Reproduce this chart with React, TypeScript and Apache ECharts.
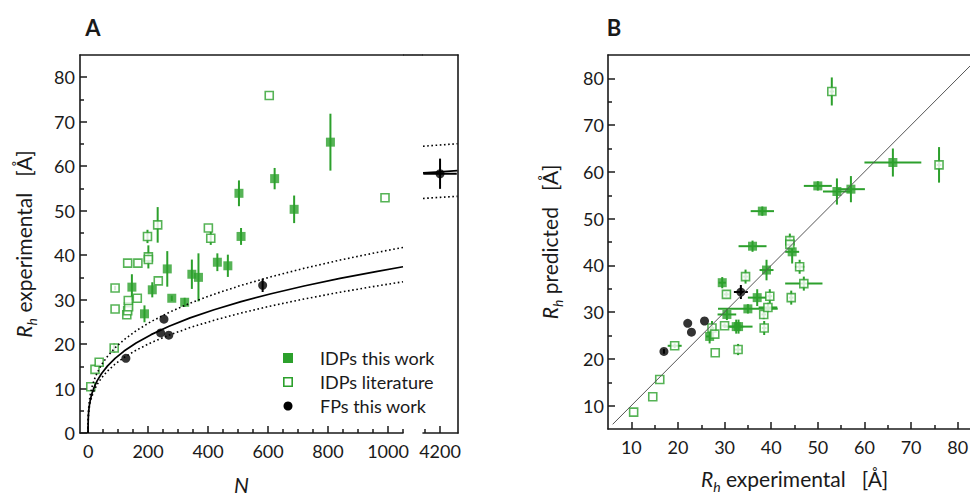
import React, { useEffect, useRef } from 'react';
import * as echarts from 'echarts';

const GREEN = '#2ca02c';
const INK = '#1a1a1a';
const FONT = 'Lato, "Open Sans", sans-serif';

// ---------- Panel A: Rh experimental vs N ----------
const aWorkN = [146, 188, 214, 264, 279, 322, 346, 368, 431, 466, 503, 510, 622, 687, 808];
const aWorkRh = [32.8, 26.8, 32.2, 36.9, 30.3, 29.4, 35.7, 35.0, 38.4, 37.6, 53.9, 44.2, 57.2, 50.3, 65.4];
const aWorkErr = [2.9, 1.9, 1.7, 4.0, 0.6, 1.0, 3.3, 5.4, 2.0, 2.5, 2.9, 1.9, 2.4, 3.1, 6.4];

const aLitN = [9, 23, 37, 87, 90, 90, 129, 132, 135, 134, 132, 164, 166, 198, 201, 201, 234, 232, 401, 409, 604, 990];
const aLitRh = [10.4, 14.3, 15.9, 19.1, 27.9, 32.6, 26.6, 27.5, 28.4, 29.8, 38.2, 30.3, 38.2, 44.2, 39.6, 39.0, 34.2, 46.8, 46.1, 43.8, 75.9, 52.9];
const aLitErr = [0, 0, 0, 1.0, 0, 0.5, 0, 0, 0, 0, 0, 0, 0, 1.5, 2.6, 0, 0, 4.0, 0, 1.5, 0, 0];

const aFpN = [126, 242, 253, 269, 582, 4200];
const aFpRh = [16.8, 22.5, 25.6, 22.0, 33.2, 58.3];
const aFpErrN = [0, 0, 0, 0, 0, 56];
const aFpErrRh = [0, 0, 0, 0, 1.5, 3.4];

// scaling-law fit Rh = a * N^nu (solid) and its confidence bounds (dotted)
const FIT_MAIN = { a: 3.87, nu: 0.326 };
const FIT_UPPER = { a: 4.6, nu: 0.317 };
const FIT_LOWER = { a: 3.67, nu: 0.32 };
const fitNLeft = [0, 0.05, 0.3, 1, 2, 4, 7, 12, 20, 30, 45, 65, 90, 120, 160, 210, 270, 340, 420, 510, 610, 720, 840, 960, 1050];
const fitNRight = [4143, 4200, 4258];

const aNLabels = [0, 200, 400, 600, 800, 1000];
const aNMinor = [50, 100, 150, 250, 300, 350, 450, 500, 550, 650, 700, 750, 850, 900, 950, 1050];
const aNRightLabels = [4200];
const aNRightMinor = [4150];
const aRhLabels = [0, 10, 20, 30, 40, 50, 60, 70, 80];
const aRhMinor = [5, 15, 25, 35, 45, 55, 65, 75];

const legendNames = ['IDPs this work', 'IDPs literature', 'FPs this work'];

// ---------- Panel B: Rh predicted vs Rh experimental ----------
const bWorkX = [26.8, 29.5, 30.5, 32.5, 33.0, 35.0, 36.0, 37.0, 38.1, 39.0, 44.5, 50.0, 54.1, 57.1, 66.1];
const bWorkY = [24.8, 36.3, 29.5, 26.9, 26.9, 30.7, 44.1, 33.1, 51.6, 39.0, 42.9, 57.0, 55.8, 56.3, 62.0];
const bWorkEx = [0.8, 0.8, 2.0, 1.5, 3.0, 6.4, 3.0, 2.0, 2.5, 1.5, 1.5, 3.0, 3.0, 3.0, 6.1];
const bWorkEy = [1.5, 1.2, 1.2, 1.5, 1.5, 1.0, 1.2, 1.8, 1.0, 2.2, 2.5, 1.0, 2.8, 2.8, 3.0];

const bLitX = [10.5, 14.6, 16.1, 19.3, 27.3, 27.9, 28.0, 30.0, 30.4, 32.9, 34.5, 38.4, 38.5, 39.3, 39.7, 44.0, 44.0, 44.3, 46.1, 47.0, 53.0, 76.0];
const bLitY = [8.6, 11.9, 15.6, 22.8, 26.6, 25.3, 21.3, 27.1, 33.8, 22.0, 37.6, 29.5, 26.6, 31.0, 33.4, 45.3, 44.5, 33.1, 39.7, 36.1, 77.2, 61.5];
const bLitEx = [0, 0, 0, 1.5, 0.5, 0, 0, 0.5, 0.5, 0.8, 0.5, 0.5, 0.5, 2.0, 0.5, 1.0, 1.0, 0.5, 1.0, 4.0, 0.5, 0.5];
const bLitEy = [0, 0, 0, 0.5, 1.5, 0, 0, 0.5, 0.5, 1.2, 1.5, 1.0, 1.5, 1.0, 1.5, 1.5, 1.0, 1.5, 1.5, 1.5, 3.0, 3.8];

const bFpX = [17.0, 22.1, 22.9, 25.7, 33.5];
const bFpY = [21.6, 27.6, 25.7, 28.1, 34.3];
const bFpEx = [0, 0, 0, 0, 1.5];
const bFpEy = [0.5, 0, 0, 0, 1.5];

const bIdentity = [[6, 6], [85, 85]];

const bLabels = [10, 20, 30, 40, 50, 60, 70, 80];
const bMinor = [15, 25, 35, 45, 55, 65, 75];

const N_BREAK = 1050;

// layout
const A_LEFT = 80, A_TOP = 55, A_H = 378, A_W1 = 323, BREAK_GAP = 20, A_W2 = 35;
const A_LEFT2 = A_LEFT + A_W1 + BREAK_GAP;
const LEG_X = 288, LEG_Y = 358, LEG_ROW = 24, LEG_TEXT_X = 320;

function fitCurve(p: { a: number; nu: number }, ns: number[]) {
  return ns.map((n) => [n, n === 0 ? 0 : p.a * Math.pow(n, p.nu)]);
}

function errRender(color: string) {
  return (params: any, api: any) => {
    const x = api.value(0), y = api.value(1), ex = api.value(2), ey = api.value(3);
    const st = { stroke: color, lineWidth: 2 };
    const kids: any[] = [];
    if (ey > 0) {
      const a = api.coord([x, y - ey]);
      const b = api.coord([x, y + ey]);
      kids.push({ type: 'line', shape: { x1: a[0], y1: a[1], x2: b[0], y2: b[1] }, style: st });
    }
    if (ex > 0) {
      const a = api.coord([x - ex, y]);
      const b = api.coord([x + ex, y]);
      kids.push({ type: 'line', shape: { x1: a[0], y1: a[1], x2: b[0], y2: b[1] }, style: st });
    }
    return { type: 'group', children: kids };
  };
}

const zip4 = (a: number[], b: number[], c: number[], d: number[]) => a.map((v, i) => [v, b[i], c[i], d[i]]);
const zip2 = (a: number[], b: number[]) => a.map((v, i) => [v, b[i]]);

const lineAx = () => ({ show: true, onZero: false, lineStyle: { color: INK, width: 1.6 } });
const labelStyle = { color: INK, fontSize: 18, fontFamily: FONT, formatter: (v: number) => String(v) };

function majorAxis(extra: any) {
  return {
    type: 'value',
    splitLine: { show: false },
    axisLine: lineAx(),
    ...extra,
    axisTick: { show: true, inside: true, length: 7, lineStyle: { color: INK, width: 1.5 }, ...(extra.axisTick || {}) },
    axisLabel: { ...labelStyle, ...(extra.axisLabel || {}) },
  };
}
function minorAxis(extra: any, values: number[]) {
  return {
    type: 'value',
    splitLine: { show: false },
    axisLine: { show: false, onZero: false },
    axisLabel: { show: false },
    axisTick: { show: true, inside: true, length: 4, customValues: values, lineStyle: { color: INK, width: 1.5 } },
    ...extra,
  };
}
function frameAxis(extra: any) {
  return {
    type: 'value',
    axisLine: lineAx(), axisTick: { show: false }, axisLabel: { show: false }, splitLine: { show: false },
    ...extra,
  };
}

const nameRich = {
  i: { fontStyle: 'italic', fontSize: 21, lineHeight: 30, fontFamily: FONT, color: INK },
  s: { fontStyle: 'italic', fontSize: 14, lineHeight: 14, verticalAlign: 'bottom', fontFamily: FONT, color: INK },
};
const nameStyle = { fontSize: 21, lineHeight: 30, fontFamily: FONT, color: INK, rich: nameRich };

export default function App() {
  const ref = useRef<HTMLDivElement>(null);
  useEffect(() => {
    const chart = echarts.init(ref.current!, null, { renderer: 'svg' });

    const aWork = zip4(aWorkN, aWorkRh, aWorkN.map(() => 0), aWorkErr);
    const aLit = zip4(aLitN, aLitRh, aLitN.map(() => 0), aLitErr);
    const aFp = zip4(aFpN, aFpRh, aFpErrN, aFpErrRh);
    const aFpLeft = aFp.filter((d) => d[0] <= N_BREAK);
    const aFpRight = aFp.filter((d) => d[0] > N_BREAK);

    const legendMarks: any[] = [
      { type: 'rect', shape: { x: LEG_X - 5, y: LEG_Y - 5, width: 10, height: 10 }, style: { fill: GREEN } },
      { type: 'rect', shape: { x: LEG_X - 4.2, y: LEG_Y + LEG_ROW - 4.2, width: 8.4, height: 8.4 }, style: { fill: '#fff', stroke: GREEN, lineWidth: 1.6 } },
      { type: 'circle', shape: { cx: LEG_X, cy: LEG_Y + 2 * LEG_ROW, r: 4.5 }, style: { fill: '#000' } },
    ];
    const legendTexts = legendNames.map((name, i) => ({
      type: 'text', x: LEG_TEXT_X, y: LEG_Y + i * LEG_ROW,
      style: { text: name, fontSize: 18, fontFamily: FONT, fill: INK, textVerticalAlign: 'middle' },
    }));

    const gridBase = { containLabel: false, outerBoundsMode: 'none' };
    const lineBase = { showSymbol: false, symbol: 'none', z: 5, silent: true, clip: false };
    const option: any = {
      animation: false,
      grid: [
        { left: A_LEFT, top: A_TOP, width: A_W1, height: A_H, ...gridBase },
        { left: A_LEFT2, top: A_TOP, width: A_W2, height: A_H, ...gridBase },
        { left: 608, top: 55, width: 373, height: 374, ...gridBase },
      ],
      xAxis: [
        majorAxis({
          gridIndex: 0, position: 'bottom', min: -27, max: 1050,
          axisTick: { customValues: aNLabels }, axisLabel: { customValues: aNLabels, margin: 9 },
          name: 'N', nameLocation: 'middle', nameGap: 41,
          nameTextStyle: { fontSize: 21, lineHeight: 20, fontStyle: 'italic', fontFamily: FONT, color: INK },
        }),
        minorAxis({ gridIndex: 0, position: 'bottom', min: -27, max: 1050 }, aNMinor),
        majorAxis({
          gridIndex: 1, position: 'bottom', min: 4143, max: 4260,
          axisTick: { customValues: aNRightLabels }, axisLabel: { customValues: aNRightLabels, margin: 9 },
        }),
        minorAxis({ gridIndex: 1, position: 'bottom', min: 4143, max: 4260 }, aNRightMinor),
        majorAxis({
          gridIndex: 2, position: 'bottom', min: 5, max: 85,
          axisTick: { customValues: bLabels }, axisLabel: { customValues: bLabels, margin: 9 },
          name: '{i|R}{s|h} experimental   [Å]', nameLocation: 'middle', nameGap: 34,
          nameTextStyle: nameStyle,
        }),
        minorAxis({ gridIndex: 2, position: 'bottom', min: 5, max: 85 }, bMinor),
        frameAxis({ gridIndex: 2, position: 'top', min: 5, max: 85 }),
        frameAxis({ gridIndex: 0, position: 'top', min: -27, max: 1050 }),
        frameAxis({ gridIndex: 1, position: 'top', min: 4143, max: 4260 }),
      ],
      yAxis: [
        majorAxis({
          gridIndex: 0, position: 'left', min: 0, max: 85,
          axisTick: { customValues: aRhLabels }, axisLabel: { customValues: aRhLabels, margin: 5 },
          name: '{i|R}{s|h} experimental   [Å]', nameLocation: 'middle', nameGap: 42,
          nameTextStyle: nameStyle,
        }),
        minorAxis({ gridIndex: 0, position: 'left', min: 0, max: 85 }, aRhMinor),
        frameAxis({ gridIndex: 1, position: 'right', min: 0, max: 85 }),
        majorAxis({
          gridIndex: 2, position: 'left', min: 5, max: 85,
          axisTick: { customValues: bLabels }, axisLabel: { customValues: bLabels, margin: 4 },
          name: '{i|R}{s|h} predicted   [Å]', nameLocation: 'middle', nameGap: 44,
          nameTextStyle: nameStyle,
        }),
        minorAxis({ gridIndex: 2, position: 'left', min: 5, max: 85 }, bMinor),
      ],
      graphic: [
        { type: 'text', x: 93, y: 27, style: { text: 'A', fontSize: 22, fontWeight: 'bold', fontFamily: FONT, fill: INK, textAlign: 'center', textVerticalAlign: 'middle' } },
        { type: 'text', x: 614, y: 27, style: { text: 'B', fontSize: 22, fontWeight: 'bold', fontFamily: FONT, fill: INK, textAlign: 'center', textVerticalAlign: 'middle' } },
        // top edge of panel A across the axis break
        { type: 'rect', shape: { x: A_LEFT + A_W1, y: A_TOP - 0.8, width: BREAK_GAP, height: 1.6 }, style: { fill: INK } },
        ...legendMarks,
        ...legendTexts,
      ],
      series: [
        // fit curves, panel A left segment
        { type: 'line', xAxisIndex: 0, yAxisIndex: 0, data: fitCurve(FIT_MAIN, fitNLeft), ...lineBase, lineStyle: { color: '#000', width: 1.7 } },
        { type: 'line', xAxisIndex: 0, yAxisIndex: 0, data: fitCurve(FIT_UPPER, fitNLeft), ...lineBase, lineStyle: { color: '#000', width: 1.6, type: [1.6, 2.6] } },
        { type: 'line', xAxisIndex: 0, yAxisIndex: 0, data: fitCurve(FIT_LOWER, fitNLeft), ...lineBase, lineStyle: { color: '#000', width: 1.6, type: [1.6, 2.6] } },
        // fit curves, panel A right segment
        { type: 'line', xAxisIndex: 2, yAxisIndex: 2, data: fitCurve(FIT_MAIN, fitNRight), ...lineBase, lineStyle: { color: '#000', width: 1.7 } },
        { type: 'line', xAxisIndex: 2, yAxisIndex: 2, data: fitCurve(FIT_UPPER, fitNRight), ...lineBase, lineStyle: { color: '#000', width: 1.6, type: [1.6, 2.6] } },
        { type: 'line', xAxisIndex: 2, yAxisIndex: 2, data: fitCurve(FIT_LOWER, fitNRight), ...lineBase, lineStyle: { color: '#000', width: 1.6, type: [1.6, 2.6] } },

        // error bars
        { type: 'custom', xAxisIndex: 0, yAxisIndex: 0, data: aWork, renderItem: errRender(GREEN), encode: { x: 0, y: 1 }, clip: false, z: 2, silent: true },
        { type: 'custom', xAxisIndex: 0, yAxisIndex: 0, data: aLit, renderItem: errRender(GREEN), encode: { x: 0, y: 1 }, clip: false, z: 2, silent: true },
        { type: 'custom', xAxisIndex: 0, yAxisIndex: 0, data: aFpLeft, renderItem: errRender('#000'), encode: { x: 0, y: 1 }, clip: false, z: 2, silent: true },
        { type: 'custom', xAxisIndex: 2, yAxisIndex: 2, data: aFpRight, renderItem: errRender('#000'), encode: { x: 0, y: 1 }, clip: false, z: 2, silent: true },
        { type: 'custom', xAxisIndex: 4, yAxisIndex: 3, data: zip4(bWorkX, bWorkY, bWorkEx, bWorkEy), renderItem: errRender(GREEN), encode: { x: 0, y: 1 }, clip: false, z: 2, silent: true },
        { type: 'custom', xAxisIndex: 4, yAxisIndex: 3, data: zip4(bLitX, bLitY, bLitEx, bLitEy), renderItem: errRender(GREEN), encode: { x: 0, y: 1 }, clip: false, z: 2, silent: true },
        { type: 'custom', xAxisIndex: 4, yAxisIndex: 3, data: zip4(bFpX, bFpY, bFpEx, bFpEy), renderItem: errRender('#000'), encode: { x: 0, y: 1 }, clip: false, z: 2, silent: true },

        // markers panel A
        { name: legendNames[0], type: 'scatter', xAxisIndex: 0, yAxisIndex: 0, data: zip2(aWorkN, aWorkRh), symbol: 'rect', symbolSize: 9, itemStyle: { color: GREEN }, z: 3, clip: false },
        { name: legendNames[1], type: 'scatter', xAxisIndex: 0, yAxisIndex: 0, data: zip2(aLitN, aLitRh), symbol: 'rect', symbolSize: 8, itemStyle: { color: '#fff', borderColor: GREEN, borderWidth: 1.6 }, z: 3, clip: false },
        { name: legendNames[2], type: 'scatter', xAxisIndex: 0, yAxisIndex: 0, data: aFpLeft.map((d) => [d[0], d[1]]), symbol: 'circle', symbolSize: 9, itemStyle: { color: '#000' }, z: 3, clip: false },
        { name: legendNames[2], type: 'scatter', xAxisIndex: 2, yAxisIndex: 2, data: aFpRight.map((d) => [d[0], d[1]]), symbol: 'circle', symbolSize: 9, itemStyle: { color: '#000' }, z: 3, clip: false },

        // panel B identity line
        { type: 'line', xAxisIndex: 4, yAxisIndex: 3, data: bIdentity, ...lineBase, z: 4, lineStyle: { color: '#555', width: 1 } },

        // markers panel B
        { name: legendNames[0], type: 'scatter', xAxisIndex: 4, yAxisIndex: 3, data: zip2(bWorkX, bWorkY), symbol: 'rect', symbolSize: 9, itemStyle: { color: GREEN }, z: 3, clip: false },
        { name: legendNames[1], type: 'scatter', xAxisIndex: 4, yAxisIndex: 3, data: zip2(bLitX, bLitY), symbol: 'rect', symbolSize: 8, itemStyle: { color: '#fff', borderColor: GREEN, borderWidth: 1.6 }, z: 3, clip: false },
        { name: legendNames[2], type: 'scatter', xAxisIndex: 4, yAxisIndex: 3, data: zip2(bFpX, bFpY), symbol: 'circle', symbolSize: 9, itemStyle: { color: '#000' }, z: 3, clip: false },
      ],
    };

    chart.setOption(option);
    return () => chart.dispose();
  }, []);
  return <div ref={ref} style={{ position: 'absolute', left: 0, top: 0, width: 970, height: 497 }} />;
}
